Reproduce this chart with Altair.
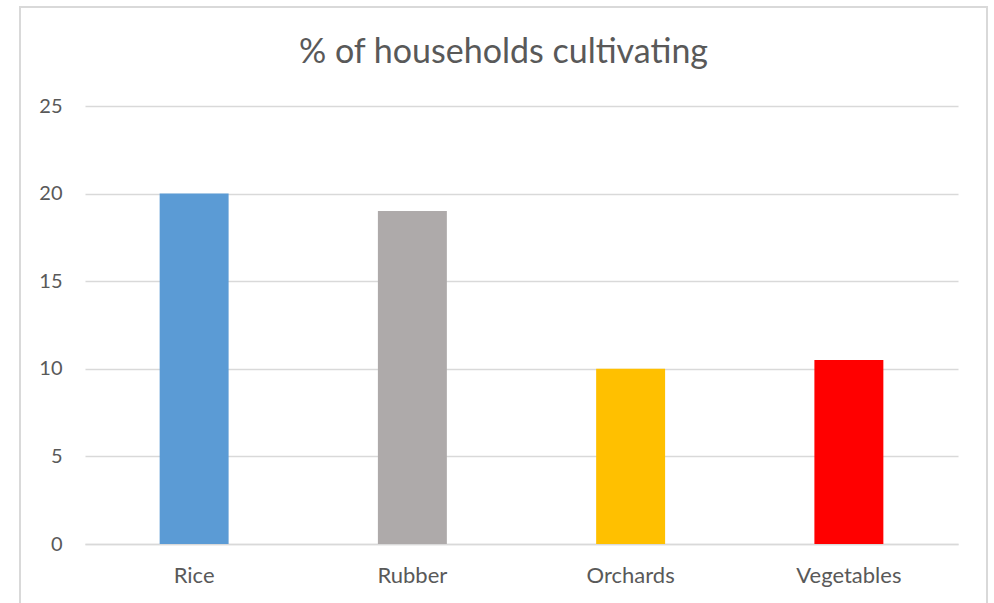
import altair as alt
import pandas as pd

crops = ["Rice", "Rubber", "Orchards", "Vegetables"]
values = [20, 19, 10, 10.5]
colors = ["#5B9BD5", "#AEAAAA", "#FFC000", "#FF0000"]
y_ticks = [0, 5, 10, 15, 20, 25]

df = pd.DataFrame({"crop": crops, "value": values})

FONT = "Lato"
W, H = 873, 438

bars = alt.Chart(df).mark_bar().encode(
    x=alt.X("crop:N", sort=crops, title=None,
            scale=alt.Scale(paddingInner=0.684, paddingOuter=0.342),
            axis=alt.Axis(labelAngle=0, labelFontSize=22, labelColor="#595959",
                          labelFont=FONT, labelPadding=21, ticks=False,
                          domainColor="#D9D9D9", domainWidth=1.3, grid=False)),
    y=alt.Y("value:Q", title=None,
            scale=alt.Scale(domain=[0, 25], nice=False),
            axis=alt.Axis(values=y_ticks, labelFontSize=20, labelColor="#595959",
                          labelFont=FONT, labelPadding=23, ticks=False, domain=False,
                          gridColor="#D9D9D9", gridWidth=1.3)),
    color=alt.Color("crop:N", scale=alt.Scale(domain=crops, range=colors), legend=None),
)

frame = alt.Chart(df).mark_rect(fill=None, stroke="#D9D9D9", strokeWidth=1.5, clip=False).encode(
    x=alt.value(-65), x2=alt.value(902), y=alt.value(-99), y2=alt.value(520)
)

chart = alt.layer(frame, bars).properties(
    width=W, height=H,
    title=alt.TitleParams("% of households cultivating", font=FONT, fontSize=34,
                          fontWeight="normal", color="#595959", anchor="middle",
                          dx=-18, offset=-64),
    padding={"left": 85, "top": 106, "right": 36, "bottom": 59},
    autosize=alt.AutoSizeParams(type="none"),
).configure_view(stroke=None)

chart.save("out.html", embed_options={"renderer": "svg", "actions": False})
